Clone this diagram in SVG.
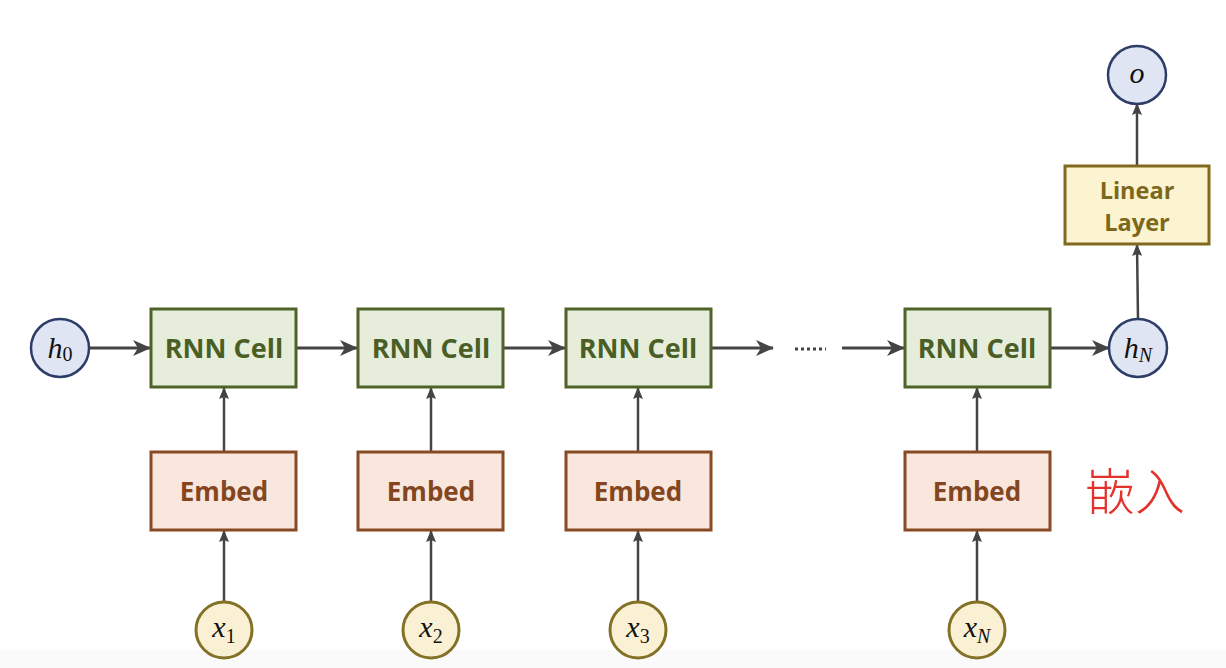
<svg xmlns="http://www.w3.org/2000/svg" width="1226" height="668" viewBox="0 0 1226 668">
<style>
.cell{fill:#e6eedb;stroke:#4f6228;stroke-width:3}
.cellt{fill:#4a5e26;font-family:"Open Sans","Liberation Sans",sans-serif;font-weight:bold;font-size:27px;text-anchor:middle}
.emb{fill:#f9e6dd;stroke:#874a24;stroke-width:3}
.embt{fill:#84461f;font-family:"Open Sans","Liberation Sans",sans-serif;font-weight:bold;font-size:26px;text-anchor:middle}
.lin{fill:#fcf3d0;stroke:#806a1e;stroke-width:3}
.lint{fill:#7d671b;font-family:"Open Sans","Liberation Sans",sans-serif;font-weight:bold;font-size:23.5px;text-anchor:middle}
.hc{fill:#dfe5f2;stroke:#2e3c68;stroke-width:2.5}
.xc{fill:#faf1d5;stroke:#837126;stroke-width:3}
.m{font-family:"Liberation Serif","DejaVu Serif",serif;fill:#111;text-anchor:middle}
.mi{font-style:italic;font-size:30px}
.ms{font-size:20px}
.c{stroke:#444;stroke-width:3;fill:none}
.cv{stroke:#444;stroke-width:2.5;fill:none}
</style>
<defs>
<marker id="ah" markerUnits="userSpaceOnUse" markerWidth="18" markerHeight="16" viewBox="0 0 18 16" refX="17" refY="8" orient="auto">
<path d="M0,0 L18,8 L0,16 L5,8 z" fill="#444"/>
</marker>
<marker id="av" markerUnits="userSpaceOnUse" markerWidth="12" markerHeight="10" viewBox="0 0 12 10" refX="11" refY="5" orient="auto">
<path d="M0,0 L12,5 L0,10 L2,5 z" fill="#444"/>
</marker>
</defs>
<rect x="0" y="0" width="1226" height="668" fill="#ffffff"/>
<rect x="0" y="650" width="1226" height="18" fill="#fafafa"/>

<g id="connectors">
<line class="c" x1="89" y1="348" x2="150" y2="348" marker-end="url(#ah)"/>
<line class="c" x1="296" y1="348" x2="357" y2="348" marker-end="url(#ah)"/>
<line class="c" x1="503" y1="348" x2="565" y2="348" marker-end="url(#ah)"/>
<line class="c" x1="711" y1="348" x2="773" y2="348" marker-end="url(#ah)"/>
<line x1="795" y1="349" x2="826" y2="349" stroke="#444" stroke-width="3" stroke-dasharray="3,3"/>
<line class="c" x1="842" y1="348" x2="904" y2="348" marker-end="url(#ah)"/>
<line class="c" x1="1050" y1="348" x2="1109" y2="348" marker-end="url(#ah)"/>
<line class="cv" x1="224" y1="452" x2="224" y2="388" marker-end="url(#av)"/>
<line class="cv" x1="431" y1="452" x2="431" y2="388" marker-end="url(#av)"/>
<line class="cv" x1="638" y1="452" x2="638" y2="388" marker-end="url(#av)"/>
<line class="cv" x1="977" y1="452" x2="977" y2="388" marker-end="url(#av)"/>
<line class="cv" x1="224" y1="601" x2="224" y2="531" marker-end="url(#av)"/>
<line class="cv" x1="431" y1="601" x2="431" y2="531" marker-end="url(#av)"/>
<line class="cv" x1="638" y1="601" x2="638" y2="531" marker-end="url(#av)"/>
<line class="cv" x1="977" y1="601" x2="977" y2="531" marker-end="url(#av)"/>
<line class="cv" x1="1138" y1="319" x2="1137" y2="245" marker-end="url(#av)"/>
<line class="cv" x1="1137" y1="165" x2="1137" y2="104" marker-end="url(#av)"/>
</g>

<g id="h0"><circle class="hc" cx="60" cy="348" r="29"/><text class="m" x="60" y="358"><tspan class="mi">h</tspan><tspan class="ms" dy="3">0</tspan></text></g>

<g id="rnn1"><rect class="cell" x="151" y="309" width="145" height="78"/><text class="cellt" x="224" y="358">RNN Cell</text></g>
<g id="rnn2"><rect class="cell" x="358" y="309" width="145" height="78"/><text class="cellt" x="431" y="358">RNN Cell</text></g>
<g id="rnn3"><rect class="cell" x="566" y="309" width="145" height="78"/><text class="cellt" x="638" y="358">RNN Cell</text></g>
<g id="rnn4"><rect class="cell" x="905" y="309" width="145" height="78"/><text class="cellt" x="977" y="358">RNN Cell</text></g>

<g id="embed1"><rect class="emb" x="151" y="452" width="145" height="78"/><text class="embt" x="224" y="501">Embed</text></g>
<g id="embed2"><rect class="emb" x="358" y="452" width="145" height="78"/><text class="embt" x="431" y="501">Embed</text></g>
<g id="embed3"><rect class="emb" x="566" y="452" width="145" height="78"/><text class="embt" x="638" y="501">Embed</text></g>
<g id="embed4"><rect class="emb" x="905" y="452" width="145" height="78"/><text class="embt" x="977" y="501">Embed</text></g>

<g id="x1"><circle class="xc" cx="224" cy="630" r="28"/><text class="m" x="224" y="637"><tspan class="mi">x</tspan><tspan class="ms" dy="6">1</tspan></text></g>
<g id="x2"><circle class="xc" cx="431" cy="630" r="28"/><text class="m" x="431" y="637"><tspan class="mi">x</tspan><tspan class="ms" dy="6">2</tspan></text></g>
<g id="x3"><circle class="xc" cx="638" cy="630" r="28"/><text class="m" x="638" y="637"><tspan class="mi">x</tspan><tspan class="ms" dy="6">3</tspan></text></g>
<g id="xN"><circle class="xc" cx="977" cy="630" r="28"/><text class="m" x="977" y="637"><tspan class="mi">x</tspan><tspan class="ms" dy="6" font-style="italic">N</tspan></text></g>

<g id="hN"><circle class="hc" cx="1138" cy="348" r="29"/><text class="m" x="1138" y="358"><tspan class="mi">h</tspan><tspan class="ms" dy="4" font-style="italic">N</tspan></text></g>

<g id="linear"><rect class="lin" x="1065" y="166" width="144" height="78"/><text class="lint" x="1137" y="199">Linear</text><text class="lint" x="1137" y="231">Layer</text></g>

<g id="o"><circle class="hc" cx="1137" cy="75" r="29"/><text class="m mi" x="1137" y="83">o</text></g>

<g id="note"><text x="1085" y="510" fill="#e3322b" font-family="'Noto Sans CJK SC',sans-serif" font-weight="300" font-size="50px">嵌入</text></g>
</svg>
